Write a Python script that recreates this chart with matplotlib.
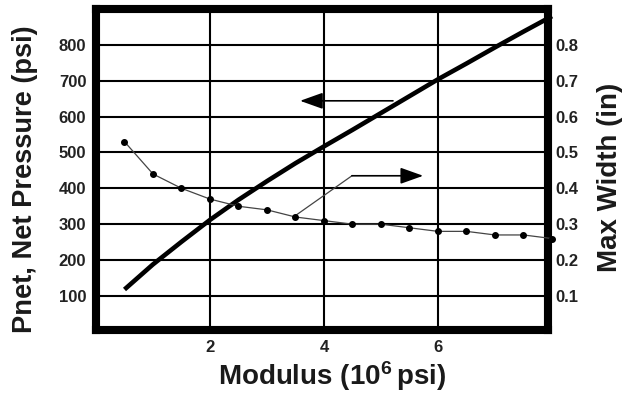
import matplotlib
matplotlib.use("Agg")
import matplotlib.pyplot as plt

plt.rcParams['font.family'] = ['Liberation Sans', 'DejaVu Sans']
plt.rcParams['mathtext.default'] = 'regular'

# Data
modulus_p = [0.5, 1.0, 1.5, 2.0, 2.5, 3.0, 3.5, 4.0, 4.5, 5.0, 5.5, 6.0, 6.5, 7.0, 7.5, 8.0]
pnet = [118, 188, 251, 312, 368, 420, 470, 517, 563, 610, 657, 704, 748, 793, 837, 880]

modulus_w = [0.5, 1.0, 1.5, 2.0, 2.5, 3.0, 3.5, 4.0, 4.5, 5.0, 5.5, 6.0, 6.5, 7.0, 7.5, 8.0]
max_width = [0.53, 0.44, 0.40, 0.37, 0.35, 0.34, 0.32, 0.31, 0.30, 0.30, 0.29, 0.28, 0.28, 0.27, 0.27, 0.26]

x_ticks = [2, 4, 6]
p_ticks = [100, 200, 300, 400, 500, 600, 700, 800]
w_ticks = [0.1, 0.2, 0.3, 0.4, 0.5, 0.6, 0.7, 0.8]

fig = plt.figure(figsize=(6.24, 3.95), dpi=100)
ax = fig.add_axes([96/624, 1-330/395, (548-96)/624, (330-9)/395])
ax2 = ax.twinx()

ax.set_xlim(0, 7.93)
ax.set_ylim(5, 900)
ax2.set_ylim(0.005, 0.9)

tick_color = '#222222'
ax.set_xticks(x_ticks)
ax.set_yticks(p_ticks)
ax2.set_yticks(w_ticks)
ax.set_xticklabels([str(v) for v in x_ticks], fontsize=12, fontweight='bold', color=tick_color)
ax.set_yticklabels([str(v) for v in p_ticks], fontsize=12, fontweight='bold', color=tick_color)
ax2.set_yticklabels([f"{v:.1f}" for v in w_ticks], fontsize=12, fontweight='bold', color=tick_color)
ax.tick_params(axis='y', length=0, pad=7)
ax.tick_params(axis='x', length=0, pad=7)
ax2.tick_params(length=0, pad=5)

ax.grid(True, color='black', linewidth=1.5)
ax.set_axisbelow(True)

for a in (ax, ax2):
    for s in a.spines.values():
        s.set_linewidth(5.8)
        s.set_color('black')

ax.plot(modulus_p, pnet, color='black', linewidth=3.3, solid_capstyle='butt', clip_on=False, zorder=3)
ax2.plot(modulus_w, max_width, color='#444444', linewidth=0.9, marker='o', markersize=4,
         markerfacecolor='black', markeredgecolor='black', clip_on=False, zorder=3)

# Arrows
ax.annotate('', xy=(3.58, 644), xytext=(5.21, 644),
            arrowprops=dict(arrowstyle='-|>,head_length=1.4,head_width=0.5', color='black', lw=1.2,
                            shrinkA=0, shrinkB=0))
ax.plot([3.49, 4.49], [323, 435], color='#444444', linewidth=0.9)
ax.annotate('', xy=(5.74, 435), xytext=(4.49, 435),
            arrowprops=dict(arrowstyle='-|>,head_length=1.4,head_width=0.5', color='black', lw=1.2,
                            shrinkA=0, shrinkB=0))

label_color = '#1a1a1a'
ax.set_xlabel('Modulus (10$^{6}\\,$psi)', fontsize=20, fontweight='bold', color=label_color)
ax.set_ylabel('Pnet, Net Pressure (psi)', fontsize=19.6, fontweight='bold', color=label_color)
ax2.set_ylabel('Max Width (in)', fontsize=20, fontweight='bold', color=label_color)
ax.xaxis.set_label_coords((332-96)/452, (330-359)/321)
ax.yaxis.set_label_coords((38-96)/452, (330-179)/321)
ax2.yaxis.set_label_coords((597-96)/452, (330-177)/321)

fig.savefig('out.png', dpi=100)
